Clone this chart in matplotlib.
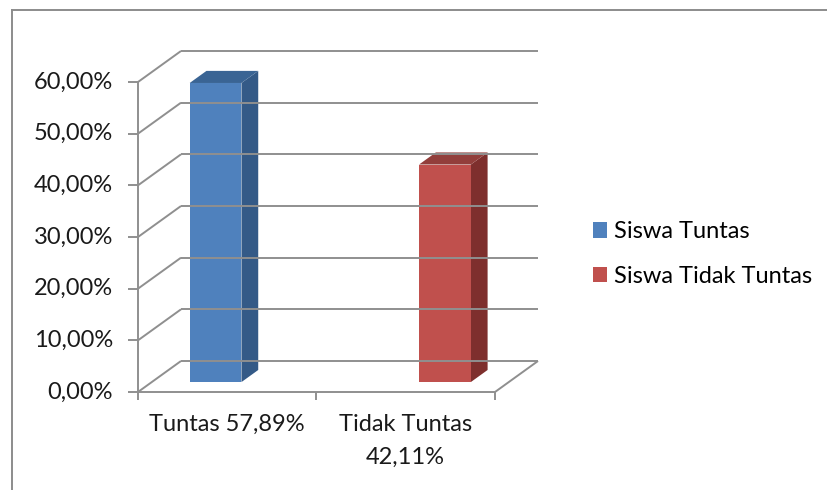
import matplotlib.pyplot as plt
from matplotlib.patches import Patch
from matplotlib.lines import Line2D

categories = ['Tuntas 57,89%', 'Tidak Tuntas\n42,11%']
series = ['Siswa Tuntas', 'Siswa Tidak Tuntas']
values = [57.89, 42.11]
yticks = [0, 10, 20, 30, 40, 50, 60]
ytick_labels = [f"{v:.2f}%".replace('.', ',') for v in yticks]

front_colors = ['#4f81bd', '#c0504d']
side_colors = ['#345a87', '#7e2f2d']
top_colors = ['#3a6494', '#923e3b']
grid_color = '#8f8f8f'

plt.rcParams['font.family'] = ['Lato', 'DejaVu Sans']
FS = 17

# pixel layout of the front plane (origin at bottom left corner of the walls)
W, H = 828, 490
X0_PX, Y0_PX = 138, 392
CAT_PX = 178.5
PCT_PX = 310 / 60
DEPTH_X = 43 / CAT_PX
DEPTH_Y = 31 / PCT_PX

fig = plt.figure(figsize=(W / 100, H / 100), dpi=100)
ax = fig.add_axes([0, 0, 1, 1])
ax.set_xlim(-X0_PX / CAT_PX, (W - X0_PX) / CAT_PX)
ax.set_ylim(-(H - Y0_PX) / PCT_PX, Y0_PX / PCT_PX)
ax.axis('off')


def proj(x, y, d):
    return x + d * DEPTH_X, y + d * DEPTH_Y


def seg(p, q, **kw):
    ax.plot([p[0], q[0]], [p[1], q[1]], color=grid_color, lw=1.4,
            solid_capstyle='butt', **kw)


n = len(categories)

# walls: back gridlines and side diagonals
for v, lab in zip(yticks, ytick_labels):
    seg(proj(0, v, 1), proj(n, v, 1))
    seg(proj(0, v, 0), proj(0, v, 1))
    # y tick marks
    seg((-10 / CAT_PX, v), (0, v))
    ax.text(-25 / CAT_PX, v, lab, ha='right', va='center', fontsize=FS,
            color='#1a1a1a')

# left axis and floor
seg(proj(0, 0, 0), proj(0, yticks[-1], 0))
seg(proj(0, 0, 0), proj(n, 0, 0))
seg(proj(n, 0, 0), proj(n, 0, 1))
for i in range(n + 1):
    seg((i, 0), (i, -8 / PCT_PX))

# bars
bar_w = 0.29
d0, d1 = 0.32, 0.71
for i, v in enumerate(values):
    c = i + 0.5 + (i - 0.5) * 0.285
    x0, x1 = c - bar_w / 2, c + bar_w / 2
    front = [proj(x0, 0, d0), proj(x1, 0, d0), proj(x1, v, d0), proj(x0, v, d0)]
    side = [proj(x1, 0, d0), proj(x1, 0, d1), proj(x1, v, d1), proj(x1, v, d0)]
    top = [proj(x0, v, d0), proj(x1, v, d0), proj(x1, v, d1), proj(x0, v, d1)]
    for poly, col in [(side, side_colors[i]), (top, top_colors[i]), (front, front_colors[i])]:
        ax.fill([p[0] for p in poly], [p[1] for p in poly], color=col, lw=0)

# category labels
for i, lab in enumerate(categories):
    ax.text(i + 0.5, -22 / PCT_PX, lab, ha='center', va='top', fontsize=FS,
            color='#1a1a1a', linespacing=1.7)

# legend
handles = [Patch(facecolor=front_colors[i], edgecolor='none') for i in range(n)]
fig.legend(handles, series, loc='center left', bbox_to_anchor=(581 / W, 1 - 254 / H),
           frameon=False, fontsize=FS, handlelength=0.62, handleheight=0.62,
           handletextpad=0.28, labelspacing=1.0, borderpad=0)

# outer chart frame (only left and top edges visible)
fig.add_artist(Line2D([12 / W, 12 / W], [0, 1 - 10 / H], transform=fig.transFigure,
                      color='#8c8c8c', lw=1.4))
fig.add_artist(Line2D([12 / W, 1], [1 - 10 / H, 1 - 10 / H], transform=fig.transFigure,
                      color='#8c8c8c', lw=1.4))

fig.savefig('out.png', dpi=100)
